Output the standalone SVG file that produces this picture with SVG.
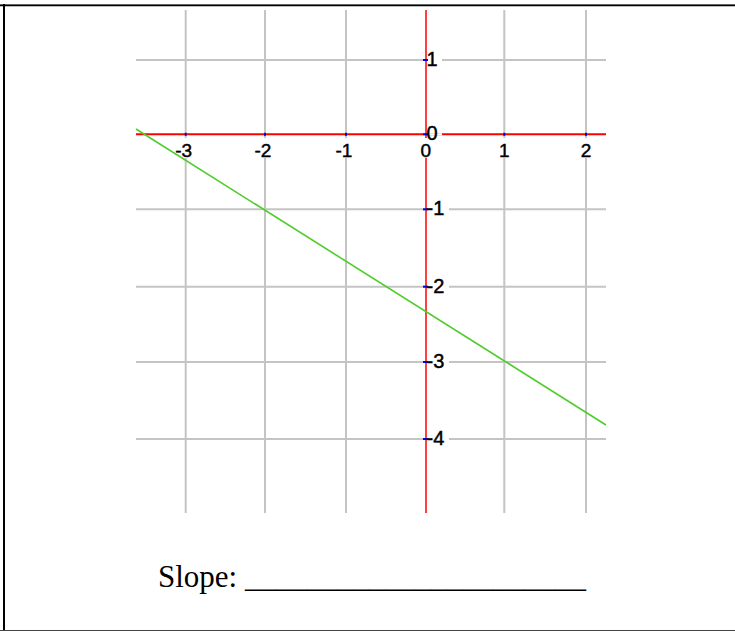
<svg xmlns="http://www.w3.org/2000/svg" width="735" height="631" viewBox="0 0 735 631">
<style>
.grid line{stroke:#c4c4c4;stroke-width:2}
.axis{stroke:#ff0000}
.tick{fill:#0000ee}
.bg{fill:#ffffff}
.xl{font-family:"Liberation Sans",Arial,sans-serif;font-size:19px;fill:#000;stroke:#000;stroke-width:0.45;text-anchor:middle}
.yl{font-family:"Liberation Sans",Arial,sans-serif;font-size:20px;fill:#000;stroke:#000;stroke-width:0.45}
.cap{font-family:"Liberation Serif","Times New Roman",serif;font-size:31px;fill:#000}
</style>
<rect width="735" height="631" fill="#fff"/>
<g id="frame">
<line x1="0" y1="4.5" x2="735" y2="4.5" stroke="#888" stroke-width="1"/>
<line x1="0" y1="5.5" x2="735" y2="5.5" stroke="#000" stroke-width="1.5"/>
<line x1="4" y1="4" x2="4" y2="631" stroke="#000" stroke-width="2"/>
<line x1="0" y1="630.5" x2="735" y2="630.5" stroke="#444" stroke-width="1"/>
</g>
<g id="grid" class="grid">
<line x1="185.7" y1="10" x2="185.7" y2="513"/>
<line x1="265" y1="10" x2="265" y2="513"/>
<line x1="346" y1="10" x2="346" y2="513"/>
<line x1="504.3" y1="10" x2="504.3" y2="513"/>
<line x1="586" y1="10" x2="586" y2="513"/>
<line x1="136" y1="60" x2="606" y2="60"/>
<line x1="136" y1="209.3" x2="606" y2="209.3"/>
<line x1="136" y1="286.7" x2="606" y2="286.7"/>
<line x1="136" y1="362" x2="606" y2="362"/>
<line x1="136" y1="439" x2="606" y2="439"/>
</g>
<g id="axes">
<line class="axis" x1="136" y1="134.3" x2="606" y2="134.3" stroke-width="2"/>
<line class="axis" x1="426" y1="10" x2="426" y2="513" stroke-width="1.5"/>
</g>
<g id="ticks">
<rect class="tick" x="184.7" y="132.8" width="2" height="3"/>
<rect class="tick" x="264" y="132.8" width="2" height="3"/>
<rect class="tick" x="345" y="132.8" width="2" height="3"/>
<rect class="tick" x="503.3" y="132.8" width="2" height="3"/>
<rect class="tick" x="585" y="132.8" width="2" height="3"/>
<rect class="tick" x="423" y="59" width="5" height="2"/>
<rect class="tick" x="423" y="133.3" width="5" height="2"/>
<rect class="tick" x="423" y="208.3" width="5" height="2"/>
<rect class="tick" x="423" y="285.7" width="5" height="2"/>
<rect class="tick" x="423" y="361" width="5" height="2"/>
<rect class="tick" x="423" y="438" width="5" height="2"/>
</g>
<g id="x-labels">
<rect class="bg" x="173" y="138" width="20" height="20"/>
<rect class="bg" x="252" y="138" width="20" height="20"/>
<rect class="bg" x="333" y="138" width="20" height="20"/>
<rect class="bg" x="418" y="138" width="15" height="20"/>
<rect class="bg" x="497" y="138" width="15" height="20"/>
<rect class="bg" x="578" y="138" width="15" height="20"/>
<text class="xl" x="183.7" y="157">-3</text>
<text class="xl" x="263" y="157">-2</text>
<text class="xl" x="344" y="157">-1</text>
<text class="xl" x="425.7" y="157">0</text>
<text class="xl" x="504.3" y="157">1</text>
<text class="xl" x="586" y="157">2</text>
</g>
<g id="y-labels">
<rect class="bg" x="428" y="50" width="14" height="18"/>
<rect class="bg" x="428" y="124" width="14" height="9"/>
<rect class="bg" x="428" y="136" width="14" height="3"/>
<rect class="bg" x="428" y="199" width="21" height="18"/>
<rect class="bg" x="428" y="277" width="21" height="18"/>
<rect class="bg" x="428" y="352" width="21" height="18"/>
<rect class="bg" x="428" y="429" width="21" height="18"/>
<line x1="428" y1="134.3" x2="442" y2="134.3" stroke="#fff" stroke-width="2.2"/>
<text class="yl" x="426.5" y="65.5">1</text>
<text class="yl" x="426.5" y="139.5">0</text>
<text class="yl" x="426.5" y="215">-1</text>
<text class="yl" x="426.5" y="292.5">-2</text>
<text class="yl" x="426.5" y="367.5">-3</text>
<text class="yl" x="426.5" y="445">-4</text>
</g>
<g id="graph-line">
<line x1="136" y1="129" x2="606" y2="425" stroke="#4fcc2c" stroke-width="1.6"/>
</g>
<g id="caption">
<text class="cap" x="158" y="587">Slope: ______________________</text>
</g>
</svg>
